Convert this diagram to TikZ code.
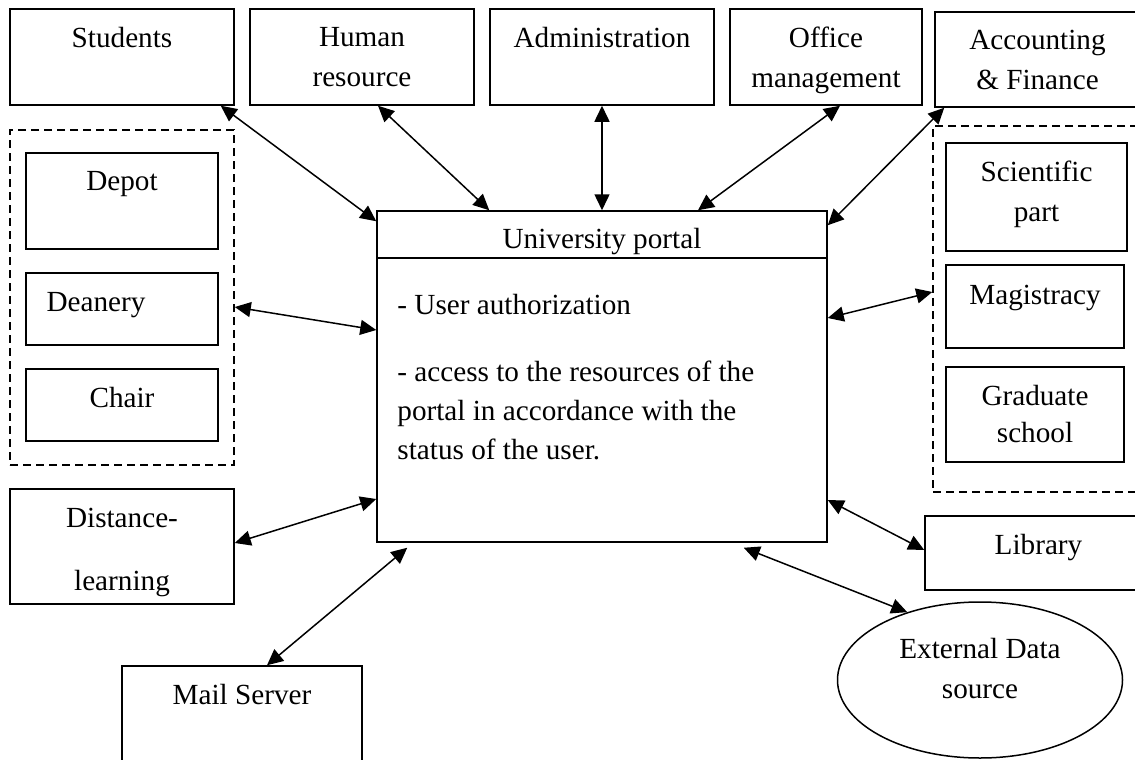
\documentclass[tikz,border=0pt]{standalone}
\usepackage{fontspec}
\setmainfont{Liberation Serif}
\usetikzlibrary{arrows.meta,shapes.geometric}
\tikzset{unit/.style={
  rectangle,
  draw,line width=1.5pt,
  inner sep=0pt,align=center}}
\tikzset{group/.style={
  rectangle,
  draw,line width=1.5pt,dash pattern=on 8pt off 5pt,
  inner sep=0pt}}
\tikzset{link/.style={<->,line width=1.5pt}}
\tikzset{>={Triangle[length=16pt,width=15pt]}}

\begin{document}
\begin{tikzpicture}[x=1pt,y=-1pt,font=\fontsize{29.2}{40}\selectfont]
  \useasboundingbox (0,0) rectangle (1135,760);
  % dashed groups
  \node[group,minimum width=224pt,minimum height=335pt] (leftgrp) at (122,297.5) {};
  \node[group,minimum width=212pt,minimum height=366pt] (rightgrp) at (1039,309) {};
  % top row
  \node[unit,minimum width=224pt,minimum height=96pt] (students) at (122,57) {Students\\\mbox{}};
  \node[unit,minimum width=224pt,minimum height=96pt] (human) at (362,57) {Human\\resource};
  \node[unit,minimum width=224pt,minimum height=96pt] (admin) at (602,57) {Administration\\\mbox{}};
  \node[unit,minimum width=192pt,minimum height=96pt,text depth=0pt] (office) at (826,57) {Office\\management};
  \node[unit,minimum width=205pt,minimum height=95pt] (accounting) at (1037.5,59.5) {Accounting\\\& Finance};
  % left side
  \node[unit,minimum width=192pt,minimum height=96pt] (depot) at (122,201) {Depot\\\mbox{}};
  \node[unit,minimum width=192pt,minimum height=72pt,text depth=14pt] (deanery) at (122,309) {Deanery\hspace*{52pt}};
  \node[unit,minimum width=192pt,minimum height=72pt,text depth=16pt] (chair) at (122,405) {Chair};
  \node[unit,minimum width=224pt,minimum height=115pt] (dist) at (122,546.5) {\rule{0pt}{32pt}Distance-\\[23pt]learning};
  \node[unit,minimum width=240pt,minimum height=96pt] (mail) at (242,714) {Mail Server\\\mbox{}};
  % right side
  \node[unit,minimum width=181pt,minimum height=108pt,text depth=12pt] (science) at (1036.5,197) {Scientific\\part};
  \node[unit,minimum width=178pt,minimum height=83pt,text depth=24pt] (magistracy) at (1035,306.5) {Magistracy};
  \node[unit,minimum width=178pt,minimum height=95pt] (graduate) at (1035,414.5) {Graduate\\[-3pt]school};
  \node[unit,minimum width=227pt,minimum height=74pt,text depth=17.5pt] (library) at (1038.5,553) {Library};
  \node[unit,ellipse,minimum width=285pt,minimum height=156pt] (ext) at (980,680) {External Data\\source\\[-16pt]\mbox{}};
  % portal
  \node[unit,minimum width=450pt,minimum height=331pt] (portal) at (602,376.5) {};
  \node[unit,anchor=north,minimum width=450pt,minimum height=47pt,text height=27pt,text depth=0pt] (title) at (portal.north) {University portal};
  \node[anchor=north west,inner sep=0pt,align=left,font=\fontsize{29.2}{39}\selectfont] (body)
    at ([shift={(21pt,-84pt)}]portal.north west)
    {- User authorization\\[28pt]- access to the resources of the\\portal in accordance with the\\status of the user.};
  % connections
  \draw[link] ([xshift=-14pt]students.south east) -- ([yshift=-11pt]portal.north west);
  \draw[link] ([xshift=16pt]human.south) -- ([xshift=113pt]portal.north west);
  \draw[link] (admin.south) -- (portal.north);
  \draw[link] ([xshift=14pt]office.south) -- ([xshift=96pt]portal.north);
  \draw[link] ([xshift=10pt]accounting.south west) -- ([yshift=-15pt]portal.north east);
  \draw[link] ([yshift=-9.5pt]leftgrp.east) -- ([yshift=46.5pt]portal.west);
  \draw[link] ([yshift=3.5pt]dist.east) -- ([yshift=-122.5pt]portal.west);
  \draw[link] ([xshift=25pt]mail.north) -- ([shift={(31pt,-5pt)}]portal.south west);
  \draw[link] ([yshift=58.5pt]portal.east) -- ([yshift=17pt]rightgrp.west);
  \draw[link] ([yshift=-123.5pt]portal.east) -- ([yshift=3pt]library.west);
  \draw[link] ([shift={(-84pt,-5pt)}]portal.south east) -- (ext.137);
\end{tikzpicture}
\end{document}
